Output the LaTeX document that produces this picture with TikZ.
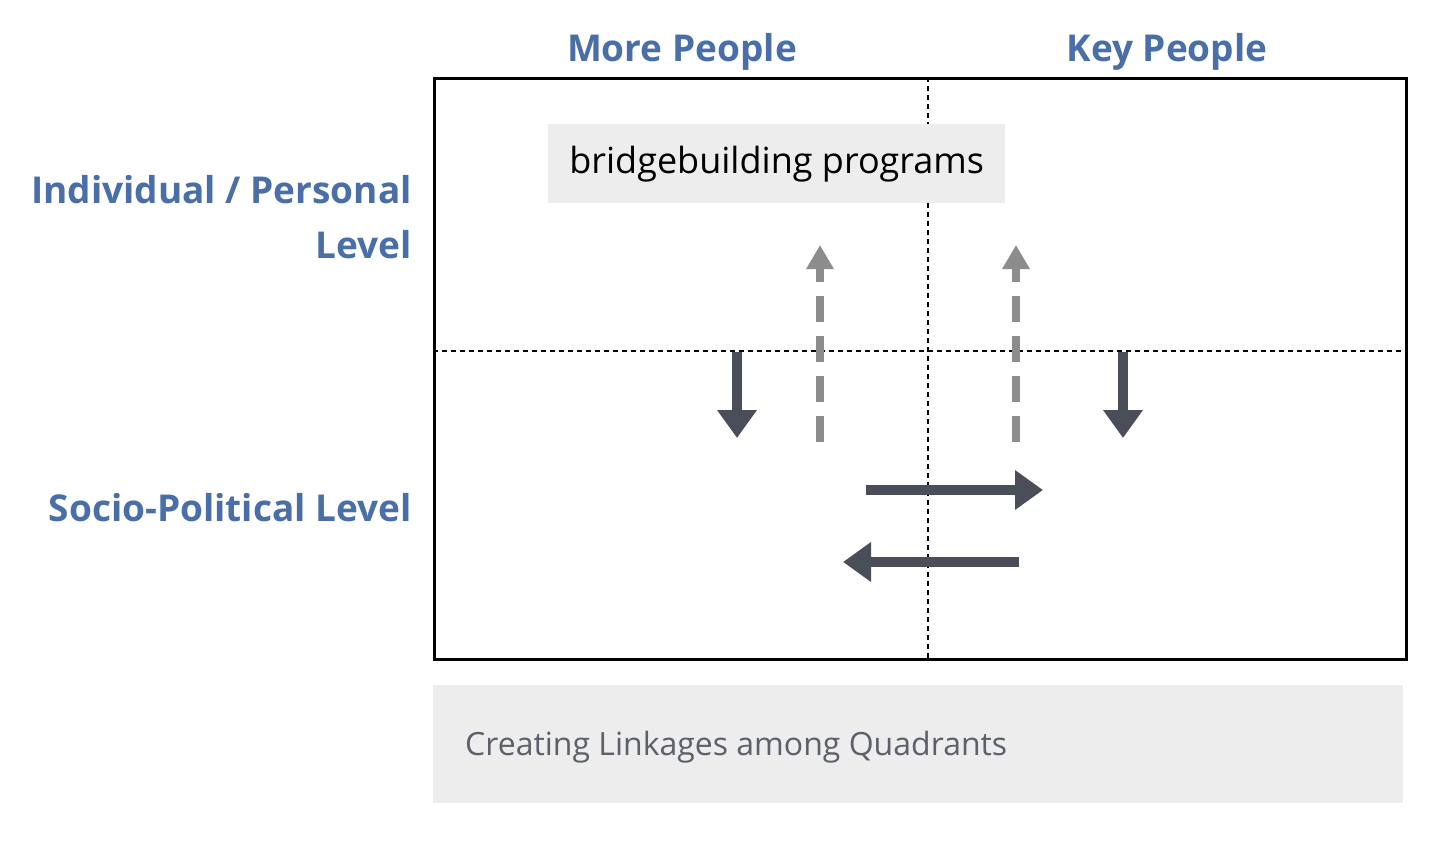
\documentclass[tikz,border=0pt]{standalone}
\usepackage{fontspec}
\setmainfont{Open Sans}
\usetikzlibrary{arrows.meta}
\definecolor{lblue}{HTML}{4A6FA8}
\definecolor{darr}{HTML}{4A4E59}
\definecolor{garr}{HTML}{8C8C8C}
\definecolor{boxg}{HTML}{EDEDED}
\tikzset{
  lbl/.style={text=lblue,font=\fontsize{37}{44}\selectfont\bfseries,inner sep=0},
  solidarr/.style={draw=darr,line width=10pt,-{Triangle[width=38pt,length=28pt]}},
  dasharr/.style={draw=garr,line width=8pt,dash pattern=on 26pt off 14pt,-{Triangle[width=26pt,length=24pt]}},
  grid/.style={line width=2.4pt,dash pattern=on 5pt off 4pt}
}
\begin{document}
\begin{tikzpicture}[x=1pt,y=-1pt]
\useasboundingbox (0,0) rectangle (1456,848);
\node[draw,line width=2.8pt,minimum width=972pt,minimum height=581pt,inner sep=0,anchor=north west] (frame) at (433,77) {};
\coordinate (vt) at (928,77); \coordinate (vb) at (928,658);
\coordinate (hl) at (433,351); \coordinate (hr) at (1405,351);
\draw[grid] (vt) -- (vb);
\draw[grid] (hl) -- (hr);
\node[fill=boxg,minimum width=457pt,minimum height=79pt,anchor=north west,inner sep=0,font=\fontsize{36}{42}\selectfont] (bb) at (548,124) {bridgebuilding programs};
\node[fill=boxg,minimum width=970pt,minimum height=118pt,anchor=north west,inner sep=0] (cap) at (433,685) {};
\node[anchor=west,text=darr!90,font=\fontsize{32}{38}\selectfont,inner sep=0] (capt) at (465,747) {Creating Linkages among Quadrants};
\node[lbl] (mp) at (682,52) {More People};
\node[lbl] (kp) at (1167,52) {Key People};
\node[lbl,anchor=east] (ip) at (412,190) {Individual / Personal};
\node[lbl,anchor=east] (lv) at (412,245) {Level};
\node[lbl,anchor=east] (sp) at (412,508) {Socio-Political Level};
\coordinate (a1) at (737,352); \coordinate (a1e) at (737,438);
\coordinate (a2) at (1123,352); \coordinate (a2e) at (1123,438);
\draw[solidarr] (a1) -- (a1e);
\draw[solidarr] (a2) -- (a2e);
\coordinate (d1) at (820,442); \coordinate (d1e) at (820,245);
\coordinate (d2) at (1016,442); \coordinate (d2e) at (1016,245);
\draw[dasharr] (d1) -- (d1e);
\draw[dasharr] (d2) -- (d2e);
\coordinate (h1) at (866,490); \coordinate (h1e) at (1043,490);
\coordinate (h2) at (1019,562); \coordinate (h2e) at (843,562);
\draw[solidarr] (h1) -- (h1e);
\draw[solidarr] (h2) -- (h2e);
\end{tikzpicture}
\end{document}
